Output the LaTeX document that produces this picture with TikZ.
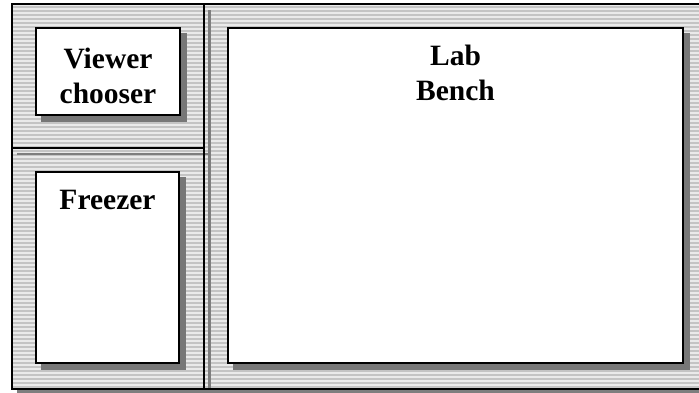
\documentclass[tikz,border=0pt]{standalone}
\usepackage{fontspec}
\setmainfont{Liberation Serif}
\definecolor{stripeA}{HTML}{C4C4C4}
\definecolor{stripeB}{HTML}{EAEAEA}
\definecolor{shadowgray}{HTML}{777777}
\definecolor{linegray}{HTML}{7E7E7E}
\pgfdeclarelayer{bg}
\pgfdeclarelayer{shade}
\pgfsetlayers{bg,shade,main}
\tikzset{
  frame/.style={line width=2pt, black},
  grayline/.style={line width=2.2pt, linegray},
  panel/.style={draw=black, line width=2.2pt, fill=white, inner sep=0pt},
  label/.style={font=\bfseries\fontsize{29.5}{35}\selectfont, align=center, inner sep=0pt}
}
\begin{document}
\begin{tikzpicture}[x=1pt,y=-1pt]
\useasboundingbox (0,0) rectangle (699,392);
% panels
\node[panel, minimum width=144pt, minimum height=87pt] (viewer) at (108,71.5) {};
\node[panel, minimum width=143pt, minimum height=191pt] (freezer) at (107.5,267.5) {};
\node[panel, minimum width=455pt, minimum height=335pt] (bench) at (455.5,195.5) {};
\begin{pgfonlayer}{shade}
\foreach \p in {viewer,freezer,bench}
  \fill[shadowgray] ([shift={(6,0)}]\p.north west) ++(0,6) rectangle ([shift={(6,6)}]\p.south east);
\end{pgfonlayer}
\begin{pgfonlayer}{bg}
\fill[stripeB] (12,5) rectangle (699,389);
\foreach \yy in {6,10,...,386} \fill[stripeA] (12,\yy) rectangle (699,\yy+2);
\draw[grayline] (17,391.5) -- (699,391.5);
\draw[grayline] (209.5,10) -- (209.5,389);
\draw[grayline] (17,154) -- (209.5,154);
\draw[frame] (703,4) -- (11.5,4) -- (11.5,389) -- (703,389);
\draw[frame] (204,4) -- (204,389);
\draw[frame] (11.5,148) -- (204,148);
\end{pgfonlayer}
% texts
\node[label] (viewertext) at ([yshift=-4.5pt]viewer.center) {Viewer\\chooser};
\node[label, anchor=north] (freezertext) at ([yshift=-19pt]freezer.north) {Freezer};
\node[label, anchor=north] (benchtext) at ([yshift=-18pt]bench.north) {Lab\\Bench};
\end{tikzpicture}
\end{document}
